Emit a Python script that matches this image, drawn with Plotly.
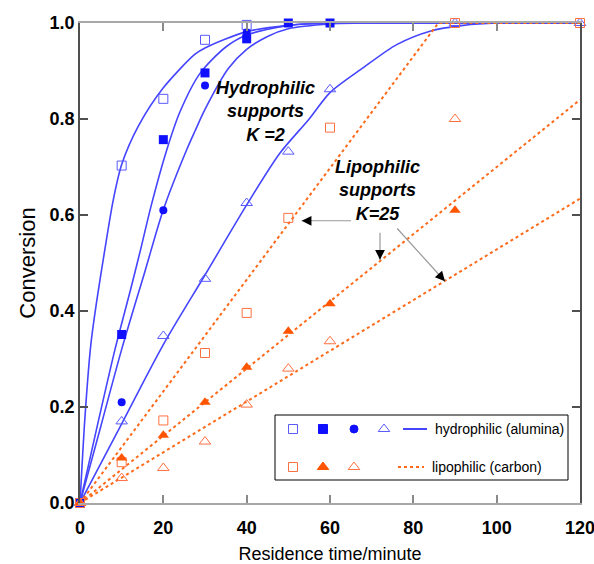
import plotly.graph_objects as go

# ---------------- measured conversions ----------------
# hydrophilic supports (alumina)
t_hyd_sq_open = [0, 10, 20, 30, 40]
x_hyd_sq_open = [0, 0.703, 0.842, 0.965, 0.996]
t_hyd_sq = [0, 10, 20, 30, 40, 50, 60]
x_hyd_sq = [0, 0.351, 0.757, 0.896, 0.967, 1.0, 1.0]
t_hyd_circ = [0, 10, 20, 30, 40]
x_hyd_circ = [0, 0.21, 0.61, 0.870, 0.98]
t_hyd_tri = [0, 10, 20, 30, 40, 50, 60, 90, 120]
x_hyd_tri = [0, 0.170, 0.348, 0.467, 0.625, 0.732, 0.862, 1.0, 1.0]

# lipophilic supports (carbon)
t_lip_sq = [0, 10, 20, 30, 40, 50, 60, 90, 120]
x_lip_sq = [0, 0.085, 0.172, 0.3125, 0.396, 0.594, 0.782, 1.0, 1.0]
t_lip_tri = [0, 10, 20, 30, 40, 50, 60, 90]
x_lip_tri = [0, 0.094, 0.141, 0.21, 0.283, 0.358, 0.415, 0.61]
t_lip_tri_open = [0, 10, 20, 30, 40, 50, 60, 90]
x_lip_tri_open = [0, 0.052, 0.073, 0.128, 0.205, 0.28, 0.337, 0.80]

# ---------------- fitted kinetic curves ----------------
fit_hyd = [
    ([0, 1.2, 2.6, 4, 6, 8, 10, 14, 20, 27.6, 30, 40, 50, 60, 80, 120],
     [0, 0.18, 0.33, 0.42, 0.53, 0.632, 0.705, 0.785, 0.865, 0.935, 0.948, 0.982, 0.995, 1.0, 1.0, 1.0]),
    ([0, 4, 8.4, 12, 14.6, 17.1, 20.8, 24, 28.8, 35, 40, 50, 60, 80, 120],
     [0, 0.155, 0.32, 0.44, 0.53, 0.62, 0.735, 0.815, 0.895, 0.95, 0.975, 0.995, 1.0, 1.0, 1.0]),
    ([0, 5, 10, 15.6, 20, 25.6, 27.6, 30, 35.6, 40, 45, 50, 60, 70, 90, 120],
     [0, 0.16, 0.32, 0.483, 0.611, 0.736, 0.775, 0.82, 0.905, 0.945, 0.972, 0.988, 0.998, 1.0, 1.0, 1.0]),
    ([0, 10, 20, 30, 40, 48, 55, 60, 68, 76, 84, 92, 100, 110, 120],
     [0, 0.165, 0.33, 0.475, 0.621, 0.729, 0.80, 0.855, 0.907, 0.955, 0.983, 0.995, 1.0, 1.0, 1.0]),
]
fit_lip = [
    ([0, 86, 120], [0, 1.0, 1.0]),
    ([0, 120], [0, 0.84]),
    ([0, 120], [0, 0.634]),
]

x_ticks = [0, 20, 40, 60, 80, 100, 120]
y_ticks = [0, 0.2, 0.4, 0.6, 0.8, 1.0]

BLUE = "#1010ff"
BLUE_LINE = "#4545ff"
BLUE_OPEN = "#5a5aff"
ORANGE = "#ff5500"
ORANGE_OPEN = "#ff7040"
ORANGE_LINE = "#ff6a1a"
FONT = "Liberation Sans, Arial, sans-serif"

fig = go.Figure()

for t, x in fit_hyd:
    fig.add_trace(go.Scatter(x=t, y=x, mode="lines",
                             line=dict(color=BLUE_LINE, width=1.6, shape="spline", smoothing=0.8),
                             hoverinfo="skip"))
for t, x in fit_lip:
    fig.add_trace(go.Scatter(x=t, y=x, mode="lines",
                             line=dict(color=ORANGE_LINE, width=2, dash="3px,3px"),
                             hoverinfo="skip"))


def pts(t, x, symbol, color, size, lw=1):
    fig.add_trace(go.Scatter(x=t, y=x, mode="markers", cliponaxis=False,
                             marker=dict(symbol=symbol, size=size, color=color,
                                         line=dict(color=color, width=lw))))


pts(t_hyd_sq_open, x_hyd_sq_open, "square-open", BLUE_OPEN, 9)
pts(t_hyd_sq, x_hyd_sq, "square", BLUE, 9, 0)
pts(t_hyd_circ, x_hyd_circ, "circle", BLUE, 8, 0)
pts(t_hyd_tri, x_hyd_tri, "triangle-up-open", BLUE_OPEN, 10)
pts(t_lip_sq, x_lip_sq, "square-open", ORANGE_OPEN, 9)
pts(t_lip_tri, x_lip_tri, "triangle-up", ORANGE, 10, 0)
pts(t_lip_tri_open, x_lip_tri_open, "triangle-up-open", ORANGE_OPEN, 10)

# ---------------- key (drawn on a pixel-scaled overlay) ----------------
key_rows = [
    (429, [("square-open", BLUE_OPEN, 9, 293), ("square", BLUE, 9, 323),
           ("circle", BLUE, 8, 354), ("triangle-up-open", BLUE_OPEN, 10, 384)],
     (403, 427), dict(color=BLUE_LINE, width=2), 433, "hydrophilic (alumina)"),
    (467, [("square-open", ORANGE_OPEN, 9, 293), ("triangle-up", ORANGE, 10, 323),
           ("triangle-up-open", ORANGE_OPEN, 10, 354)],
     (398, 424), dict(color=ORANGE_LINE, width=2, dash="3px,3px"), 430, "lipophilic (carbon)"),
]
for ky, marks, (l0, l1), lstyle, tx, label in key_rows:
    for sym, col, sz, kx in marks:
        fig.add_trace(go.Scatter(x=[kx], y=[ky], mode="markers", xaxis="x2", yaxis="y2",
                                 marker=dict(symbol=sym, size=sz, color=col,
                                             line=dict(color=col, width=1))))
    fig.add_trace(go.Scatter(x=[l0, l1], y=[ky, ky], mode="lines", xaxis="x2", yaxis="y2",
                             line=lstyle))
    fig.add_annotation(x=tx, y=ky, xref="x2", yref="y2", text=label, showarrow=False,
                       xanchor="left", yanchor="middle",
                       font=dict(family=FONT, size=14, color="black"))

fig.add_shape(type="rect", xref="x2", yref="y2", x0=275, x1=568, y0=415, y1=480,
              line=dict(color="black", width=1), fillcolor="white", layer="below")

# ---------------- labels and pointers ----------------
bold_it = dict(family=FONT, size=18, color="black", weight="bold", style="italic")
fig.add_annotation(x=44.6, y=0.816, text="Hydrophilic<br>supports<br>K =2",
                   showarrow=False, font=bold_it, align="center")
fig.add_annotation(x=71.4, y=0.651, text="Lipophilic<br>supports<br>K=25",
                   showarrow=False, font=bold_it, align="center")

pointers = [
    ((53.2, 0.588), (65.4, 0.588), (10, 0)),
    ((72.0, 0.507), (72.0, 0.566), (0, -10)),
    ((87.6, 0.462), (75.8, 0.575), (-6.7, -7.4)),
]
for (hx, hy), (sx, sy), (dx, dy) in pointers:
    fig.add_annotation(x=hx, y=hy, ax=sx, ay=sy, axref="x", ayref="y", text="",
                       showarrow=True, arrowhead=0, arrowwidth=1.2, arrowcolor="#9a9a9a")
    fig.add_annotation(x=hx, y=hy, ax=dx, ay=dy, text="", showarrow=True,
                       arrowhead=2, arrowsize=1.3, arrowwidth=1.5, arrowcolor="black")

tick_font = dict(family=FONT, size=18, color="black", weight="bold")
fig.update_layout(
    width=594, height=564,
    margin=dict(l=80, r=14, t=23, b=61),
    paper_bgcolor="white", plot_bgcolor="white",
    showlegend=False,
    xaxis=dict(range=[0, 120], tickvals=x_ticks, ticks="inside", ticklen=8, tickwidth=1.5,
               tickcolor="#8a8a8a", showline=True, linecolor="#a8a8a8", linewidth=2,
               mirror="ticks", showgrid=False, zeroline=False, tickfont=tick_font,
               ticklabelstandoff=7, ticklabeloverflow="allow", automargin=False,
               title=dict(text="Residence time/minute",
                          font=dict(family=FONT, size=18, color="black"), standoff=16)),
    yaxis=dict(range=[0, 1], tickvals=y_ticks, tickformat=".1f", ticks="inside", ticklen=8,
               tickwidth=1.5, tickcolor="#505050", showline=True, linecolor="#505050",
               linewidth=1.5, mirror="ticks", showgrid=False, zeroline=False,
               tickfont=tick_font, ticklabelstandoff=0, automargin=False,
               title=dict(text="Conversion",
                          font=dict(family=FONT, size=22, color="black"), standoff=8)),
    xaxis2=dict(overlaying="x", anchor="y2", range=[80, 580], visible=False),
    yaxis2=dict(overlaying="y", anchor="x2", range=[503, 23], visible=False),
)

fig.write_html("out.html")
